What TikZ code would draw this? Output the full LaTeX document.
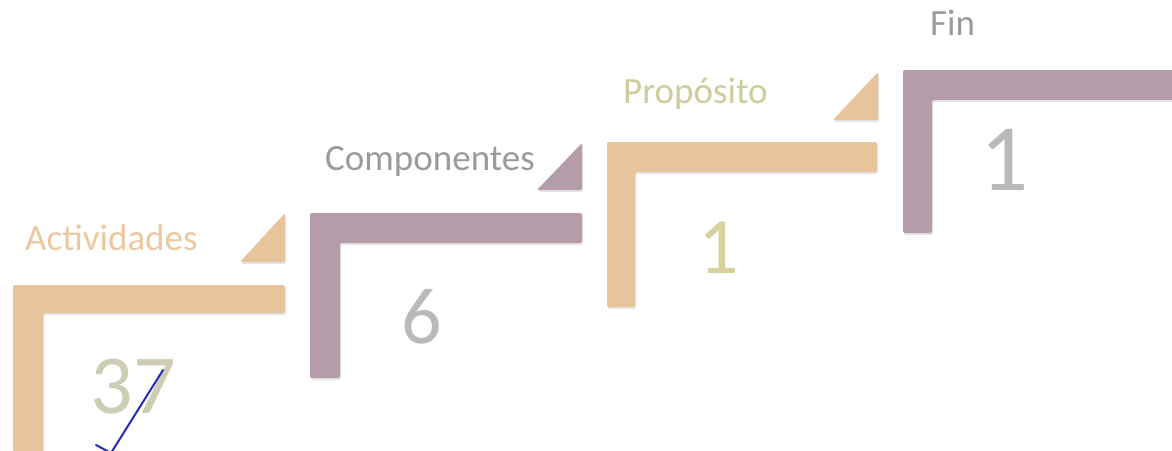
\documentclass[tikz,border=0pt]{standalone}
\usepackage{fontspec}
\setmainfont{Carlito}
\usetikzlibrary{shadows}
\definecolor{tanbar}{RGB}{232,196,156}
\definecolor{purplebar}{RGB}{180,156,171}
\definecolor{tanlabel}{RGB}{236,200,160}
\definecolor{graylabel}{RGB}{155,155,157}
\definecolor{olivelabel}{RGB}{205,205,155}
\definecolor{numolive}{RGB}{205,205,180}
\definecolor{numgray}{RGB}{185,185,188}
\definecolor{numyellow}{RGB}{215,210,155}
\definecolor{penblue}{RGB}{40,40,190}
\tikzset{
  stepbar/.style={rounded corners=2pt, draw=none, drop shadow={opacity=0.2, shadow xshift=1pt, shadow yshift=-2pt}},
  steptri/.style={draw=none, rounded corners=1.5pt, drop shadow={opacity=0.2, shadow xshift=1pt, shadow yshift=-2pt}},
  steplabel/.style={inner sep=0pt, anchor=base west, font=\fontsize{37}{42}\selectfont},
  stepnum/.style={inner sep=0pt, anchor=base}
}
\begin{document}
\begin{tikzpicture}[x=1pt,y=-1pt]
\useasboundingbox (0,0) rectangle (1172,450);
\fill[white] (0,0) rectangle (1172,450);
% step 1
\fill[tanbar, stepbar] (13,285) -- (285,285) -- (285,313) -- (43,313) -- (43,452) -- (13,452) -- cycle;
\fill[tanbar, steptri] (285,213) -- (285,262) -- (240,262) -- cycle;
\node[steplabel, text=tanlabel] (act) at (25,250) {Actividades};
\node[stepnum, text=numolive, font=\fontsize{84}{90}\selectfont] (n37) at (133,413) {37};
% step 2
\fill[purplebar, stepbar] (310,213) -- (582,213) -- (582,243) -- (340,243) -- (340,378) -- (310,378) -- cycle;
\fill[purplebar, steptri] (582,143) -- (582,190) -- (537,190) -- cycle;
\node[steplabel, text=graylabel] (comp) at (325,170) {Componentes};
\node[stepnum, text=numgray, font=\fontsize{80}{86}\selectfont] (n6) at (422,343) {6};
% step 3
\fill[tanbar, stepbar] (607,142) -- (877,142) -- (877,172) -- (635,172) -- (635,307) -- (607,307) -- cycle;
\fill[tanbar, steptri] (878,72) -- (878,120) -- (833,120) -- cycle;
\node[steplabel, text=olivelabel] (prop) at (623,103) {Propósito};
\node[stepnum, text=numyellow, font=\fontsize{80}{86}\selectfont] (n1a) at (719,273) {1};
% step 4
\fill[purplebar, stepbar] (903,70) -- (1175,70) -- (1175,100) -- (932,100) -- (932,233) -- (903,233) -- cycle;
\node[steplabel, text=graylabel] (fin) at (930,35) {Fin};
\node[stepnum, text=numgray, font=\fontsize{95}{100}\selectfont] (n1b) at (1005,190) {1};
% pen mark
\draw[penblue, line width=2pt, line cap=round, line join=round] (96,445) -- (111,453) -- (163,370);
\end{tikzpicture}
\end{document}
